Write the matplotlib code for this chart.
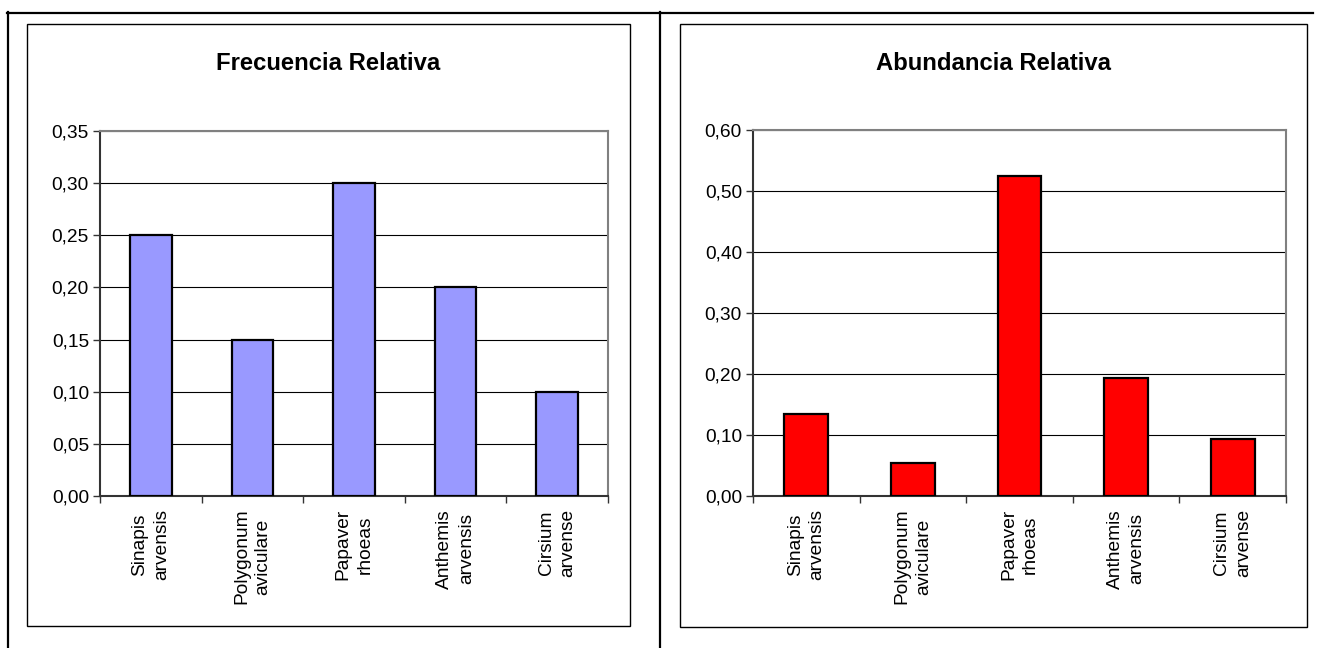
import matplotlib
matplotlib.use("Agg")
import matplotlib.pyplot as plt
from matplotlib.lines import Line2D
from matplotlib.patches import Rectangle
from matplotlib.ticker import FuncFormatter, FixedLocator, NullFormatter

plt.rcParams['font.family'] = ['Liberation Sans', 'DejaVu Sans']

especies = ['Sinapis\narvensis', 'Polygonum\naviculare', 'Papaver\nrhoeas',
            'Anthemis\narvensis', 'Cirsium\narvense']
frecuencia = [0.25, 0.15, 0.30, 0.20, 0.10]
abundancia = [0.135, 0.054, 0.525, 0.193, 0.093]

W, H = 1318, 648


def px_rect(x0, y0, x1, y1):
    """Pixel box (top-left origin) to figure fraction [left, bottom, width, height]."""
    return [x0 / W, 1 - y1 / H, (x1 - x0) / W, (y1 - y0) / H]


def coma(v, pos):
    return f'{v:.2f}'.replace('.', ',')


def grafico(fig, caja, area, valores, color, titulo, ymax, paso):
    # marco del gráfico
    fig.patches.append(Rectangle((caja[0] / W, 1 - caja[3] / H),
                                 (caja[2] - caja[0]) / W, (caja[3] - caja[1]) / H,
                                 transform=fig.transFigure, fill=False,
                                 edgecolor='black', linewidth=1.0))
    fig.text((caja[0] + caja[2]) / 2 / W, 1 - 63 / H, titulo,
             ha='center', va='center', fontsize=17.2, fontweight='bold')

    ax = fig.add_axes(px_rect(*area))
    x = range(len(valores))
    ax.bar(x, valores, width=0.41, color=color, edgecolor='black', linewidth=1.6,
           zorder=3)
    ax.set_xlim(-0.5, len(valores) - 0.5)
    ax.set_ylim(0, ymax)

    n = int(round(ymax / paso))
    marcas = [i * paso for i in range(n + 1)]
    ax.set_yticks(marcas)
    ax.yaxis.set_major_formatter(FuncFormatter(coma))
    for m in marcas[1:]:
        ax.axhline(m, color='black', linewidth=0.8, zorder=1)

    ax.xaxis.set_major_locator(FixedLocator([i - 0.5 for i in range(len(valores) + 1)]))
    ax.xaxis.set_major_formatter(NullFormatter())
    for i, nombre in enumerate(especies):
        ax.text(i, -0.035, nombre, transform=ax.get_xaxis_transform(),
                rotation=90, ha='center', va='top', multialignment='center',
                fontsize=13.8, linespacing=1.35)

    ax.tick_params(axis='both', direction='out', length=5, width=1,
                   color='#333333', labelsize=13.8)
    ax.tick_params(axis='y', pad=3)
    ax.spines['left'].set_color('#333333')
    ax.spines['bottom'].set_color('#333333')
    ax.spines['top'].set_color('#808080')
    ax.spines['right'].set_color('#808080')
    for s in ax.spines.values():
        s.set_linewidth(1.5)
    return ax


fig = plt.figure(figsize=(W / 100, H / 100), dpi=100)

# líneas de la tabla que contiene los dos gráficos
lineas = [((7, 1313), (13, 13)), ((8, 8), (12, H)), ((660, 660), (12, H))]
for xs, ys in lineas:
    fig.add_artist(Line2D([v / W for v in xs], [1 - v / H for v in ys],
                          transform=fig.transFigure, color='black', linewidth=1.6))

grafico(fig, (27, 24, 630, 626), (100, 131, 608, 496), frecuencia, '#9999FF',
        'Frecuencia Relativa', 0.35, 0.05)
grafico(fig, (680, 24, 1307, 627), (753, 130, 1286, 496), abundancia, '#FF0000',
        'Abundancia Relativa', 0.60, 0.10)

fig.savefig('out.png', dpi=100)
